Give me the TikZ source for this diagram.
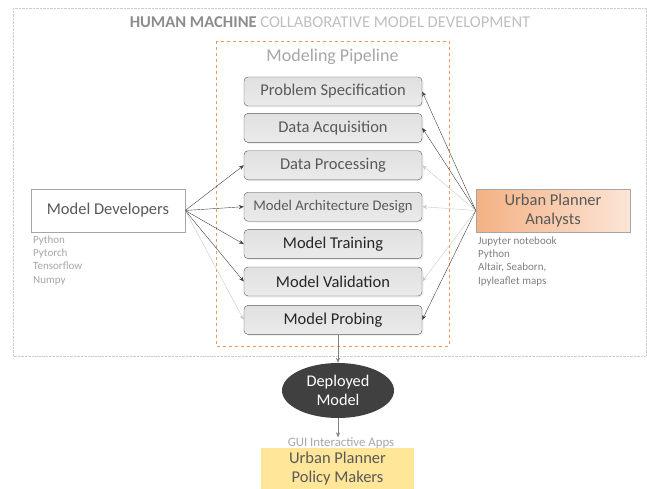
\documentclass[tikz,border=0pt]{standalone}
\usepackage{fontspec}
\setmainfont{Carlito}
\usetikzlibrary{positioning,arrows.meta,shapes.geometric,shadows}
\definecolor{boxline}{HTML}{595959}
\definecolor{softtext}{HTML}{595959}
\definecolor{hardtext}{HTML}{262626}
\definecolor{darkarrow}{HTML}{404040}
\definecolor{lightarrow}{HTML}{C8C8C8}
\definecolor{pipeorange}{HTML}{ED7D31}
\definecolor{toolgray}{HTML}{A6A6A6}
\definecolor{analystdark}{HTML}{F4B183}
\definecolor{analystlight}{HTML}{FBE5D6}
\definecolor{policyfill}{HTML}{FFE699}
\tikzset{stage node/.style={rectangle,rounded corners=4pt,draw=boxline,top color=white!88!black,bottom color=white!92!black,
		minimum width=178pt,minimum height=29pt,inner sep=0pt,text=softtext,font=\fontsize{16.5}{16.5}\selectfont,
		drop shadow={opacity=0.12,shadow xshift=1.5pt,shadow yshift=-1.5pt}},
	actor node/.style={rectangle,draw=gray!70,minimum width=154pt,minimum height=43pt,inner sep=0pt,text=softtext,
		align=center,font=\fontsize{16.5}{19}\selectfont},
	tool list/.style={anchor=north west,align=left,inner sep=0pt,text=toolgray,font=\fontsize{11}{13.3}\selectfont},
	dark link/.style={->,draw=darkarrow},
	light link/.style={->,draw=lightarrow},
}

\begin{document}
\begin{tikzpicture}[x=1pt,y=-1pt,node distance=8pt,>={Stealth[length=5pt,width=4pt]}]
	\useasboundingbox (0,0) rectangle (647,489);
	\draw[densely dotted,gray!40] (13,8) rectangle (646,356);
	\node[text=gray!50,font=\fontsize{16.5}{16.5}\selectfont] (title) at (330,22)
		{\textbf{\color{gray!90}HUMAN MACHINE} COLLABORATIVE MODEL DEVELOPMENT};
	\draw[dashed,pipeorange!80] (216,41) rectangle (449,346);
	\node[text=toolgray,font=\fontsize{18}{18}\selectfont] (pipe) at (332.5,57) {Modeling Pipeline};
	
	\node[stage node] (spec) at (333,91.5) {Problem Specification};
	\node[stage node] (acq)[below = 7pt of spec]{Data Acquisition};
	\node[stage node] (proc)[below = of acq]{Data Processing};
	\node[stage node,font=\fontsize{14.7}{14.7}\selectfont] (arch)[below = 12pt of proc]{Model Architecture Design};
	\node[stage node,text=hardtext] (train)[below = of arch]{Model Training};
	\node[stage node,text=hardtext] (valid)[below = of train]{Model Validation};
	\node[stage node,text=hardtext] (probe)[below = 9pt of valid]{Model Probing};
	
	\node[actor node,fill=white] (dev) at (108,210.5) {Model Developers};
	\node[tool list] (devtools) at (33,235.5) {Python\\Pytorch\\Tensorflow\\Numpy};
	\node[actor node,left color=analystdark,right color=analystlight] (ana) at (553,210.5)
		{Urban Planner\\Analysts};
	\node[tool list,text=gray] (anatools) at (478,236.5) {Jupyter notebook\\Python\\Altair, Seaborn,\\Ipyleaflet maps};
	
	\path
	(dev.east) edge[dark link] (proc.west)
	(dev.east) edge[dark link] (arch.west)
	(dev.east) edge[dark link] (train.west)
	(dev.east) edge[dark link] (valid.west)
	(dev.east) edge[light link] (probe.west)
	(ana.west) edge[dark link] (spec.east)
	(ana.west) edge[dark link] (acq.east)
	(ana.west) edge[light link] (proc.east)
	(ana.west) edge[light link] (arch.east)
	(ana.west) edge[light link] (valid.east)
	(ana.west) edge[dark link] (probe.east);
	
	\node[ellipse,fill=darkarrow,text=white,minimum width=112pt,minimum height=55pt,inner sep=0pt,align=center,
		font=\fontsize{16.3}{19}\selectfont] (deploy) at (338,390.5) {Deployed\\Model};
	\node[text=toolgray,inner sep=0pt,font=\fontsize{12.8}{12.8}\selectfont] (gui) at (341,443) {GUI Interactive Apps};
	\node[fill=policyfill,minimum width=153pt,minimum height=41pt,inner sep=0pt,align=center,text=softtext,
		font=\fontsize{16.5}{19}\selectfont] (policy) at (337.5,468.5) {Urban Planner\\Policy Makers};
	
	\draw[->,gray] (probe.south -| deploy.north) -- (deploy.north);
	\draw[->,gray] (deploy.south) -- (gui.north -| deploy.south);
\end{tikzpicture}
\end{document}
